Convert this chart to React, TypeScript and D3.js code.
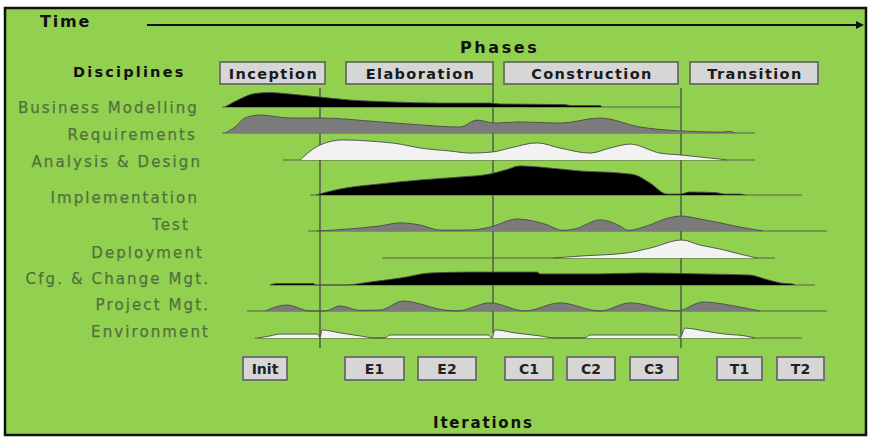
import React from "react";
import * as d3 from "d3";

// ---------- data ----------
const disciplines = [
  "Business Modelling",
  "Requirements",
  "Analysis & Design",
  "Implementation",
  "Test",
  "Deployment",
  "Cfg. & Change Mgt.",
  "Project Mgt.",
  "Environment",
];

// effort profiles: [time, effort]
const businessModelling: [number, number][] = [
  [1, 0], [4, 2.7], [7, 4.5], [10, 4.8], [14, 4.3], [20, 3.3], [26, 2.3], [34, 1.7],
  [44, 1.3], [54, 1.3], [56, 1], [69, 0.8], [70, 0.5], [76, 0.5], [76.4, 0],
];
const requirements: [number, number][] = [
  [1, 0], [3, 2], [5, 5], [8, 6], [14, 5], [20, 5], [32, 3.7], [40, 2.7], [48, 2],
  [51.4, 4.3], [55, 3.3], [60, 3.7], [68, 3.3], [76, 5], [84, 2], [92, 0.7],
  [100, 0.3], [102, 0.5], [103, 0],
];
const analysisDesign: [number, number][] = [
  [16, 0], [20, 5], [24.6, 6.7], [30, 6.3], [36, 5.3], [40, 4], [46, 3], [50, 2.3],
  [54.6, 2.7], [58, 4], [63.4, 5.7], [68, 4], [74, 2.3], [78, 4], [82, 5.3], [88, 2.3],
  [92, 1.7], [96, 1], [100, 0.3], [101.4, 0],
];
const implementation: [number, number][] = [
  [19.2, 0], [24, 2], [32, 3.7], [40, 5], [48, 6], [54, 7], [57, 8.3], [60, 9.7],
  [64, 9.3], [72, 8], [80, 7.3], [83, 6.7], [86, 4], [89.4, 0.3], [92, 0.3], [94, 1],
  [99, 0.8], [101, 0.3], [104, 0.3], [105, 0],
];
const test: [number, number][] = [
  [19.4, 0], [26, 0.7], [32, 1.7], [36, 2.7], [40, 2], [44, 0.3], [50, 0.3], [54, 1.3],
  [59.4, 4], [65, 2.3], [68.6, 0.2], [71, 0.7], [76, 3.7], [80, 1.7], [81.6, 0.2],
  [85.4, 1.7], [89, 4], [92.2, 5], [96, 4], [100, 2.7], [105, 1], [108.6, 0],
];
const deployment: [number, number][] = [
  [66.6, 0], [72.6, 0.7], [81.4, 1.7], [86, 3.3], [92.4, 6], [96, 4.3], [100, 3],
  [104, 1.3], [107.4, 0],
];
const cfgChange: [number, number][] = [
  [10, 0], [11.4, 0.5], [18.6, 0.5], [19.2, 0], [25, 0], [30, 1], [36, 2.3], [42, 4],
  [50, 4.3], [63.4, 4.3], [64, 3.7], [76, 3.7], [84, 4], [96, 3.7], [106, 3.3],
  [109, 2], [112, 0.7], [114.6, 0.3], [115, 0],
];
const projectMgt: [number, number][] = [
  [9, 0], [13.4, 2], [18, 0], [21, 0], [24, 1.7], [28, 0.2], [32, 0.3], [36.6, 3.3],
  [45, 0.3], [47.4, 0], [54, 2.7], [61, 0], [68, 2.7], [76, 0], [82, 2.7], [91.4, 0],
  [96.6, 3], [104, 1.3], [108, 0],
];
const environment: [number, number][] = [
  [7.6, 0], [10, 0.7], [12, 1.3], [19.6, 1.3], [20, 0], [20.4, 2.7], [24, 1.7],
  [28, 0.7], [31, 0], [33, 0], [34, 1], [53.6, 1], [54.4, 0], [55, 2.7], [59, 1.7],
  [64, 0.7], [67, 0], [73, 0], [74, 1], [91.2, 1], [92, 0], [93, 3.3], [97, 2.3],
  [101, 1.3], [105, 0.7], [107, 0],
];
const profiles = [
  businessModelling, requirements, analysisDesign, implementation, test,
  deployment, cfgChange, projectMgt, environment,
];
// time span of each discipline's base line
const lineSpans: [number, number][] = [
  [0.4, 92], [0.4, 107], [12.6, 107], [18, 116.4], [17.6, 121.4],
  [32.4, 111], [10, 119], [5.4, 121.4], [7, 116.4],
];

const phases = ["Inception", "Elaboration", "Construction", "Transition"];
const phaseSpans: [number, number][] = [[0, 21], [25.2, 54.6], [56.8, 91.6], [94, 119.6]];
const milestones = [20, 54.6, 92.2];

const iterations = ["Init", "E1", "E2", "C1", "C2", "C3", "T1", "T2"];
const iterationSpans: [number, number][] = [
  [4.6, 13.4], [25, 36.8], [39.6, 51.2], [57, 66.6], [69.4, 79], [82, 91.6],
  [99.4, 108.4], [111.4, 120.8],
];

// ---------- layout / style ----------
const W = 869;
const H = 441;
const rowBase = [107, 133, 160, 195, 231, 258, 285, 311, 338];
const labelY = [113, 140, 167, 203, 230, 258, 284, 310, 337];
const labelRight = [197, 195, 200, 197, 188, 202, 208, 208, 208];
const fills = ["#000", "#7b7b7b", "#f2f2f2", "#000", "#7b7b7b", "#f2f2f2", "#000", "#7b7b7b", "#f2f2f2"];
const GREEN = "#92d050";
const LABEL = "#52703f";
const LINE = "#56624c";

const x = d3.scaleLinear().domain([0, 122]).range([220, 830]);
const h = d3.scaleLinear().domain([0, 10]).range([0, 30]);

export default function App() {
  return (
    <div style={{ position: "absolute", left: 0, top: 0 }}>
      <svg width={W} height={H} style={{ display: "block", background: "#fff" }}>
        <rect x={5} y={8} width={861} height={427} fill={GREEN} stroke="#111" strokeWidth={2.5} />

        {/* time arrow */}
        <text x={40} y={27} fontFamily="DejaVu Sans" fontWeight="bold" fontSize={16} letterSpacing={1.8} fill="#111">Time</text>
        <line x1={147} y1={25} x2={856} y2={25} stroke="#111" strokeWidth={2.2} />
        <path d="M856,21 L864,25 L856,29 Z" fill="#111" />

        <text x={460} y={53} fontFamily="DejaVu Sans" fontWeight="bold" fontSize={16} letterSpacing={2.6} fill="#111">Phases</text>
        <text x={73} y={77} fontFamily="DejaVu Sans" fontWeight="bold" fontSize={14.5} letterSpacing={2.2} fill="#111">Disciplines</text>
        <text x={433} y={428} fontFamily="DejaVu Sans" fontWeight="bold" fontSize={15} letterSpacing={1.8} fill="#111">Iterations</text>

        {/* phase boxes */}
        {phases.map((p, i) => {
          const [a, b] = phaseSpans[i];
          return (
            <g key={p}>
              <rect x={x(a)} y={62} width={x(b) - x(a)} height={22} fill="#d6d6d6" stroke="#6a6a6a" strokeWidth={1.8} />
              <text x={(x(a) + x(b)) / 2 + 1} y={79} textAnchor="middle" fontFamily="DejaVu Sans" fontWeight="bold" fontSize={14.5} letterSpacing={1.4} fill="#1a1a1a">{p}</text>
            </g>
          );
        })}

        {/* milestone lines */}
        {milestones.map((m, i) => (
          <line key={i} x1={x(m)} x2={x(m)} y1={i === 1 ? 84 : 88} y2={i === 1 ? 333 : 348} stroke={LINE} strokeWidth={1.6} />
        ))}

        {/* disciplines */}
        {disciplines.map((d, i) => {
          const base = rowBase[i];
          const area = d3.area<[number, number]>()
            .x((p) => x(p[0]))
            .y0(base)
            .y1((p) => base - h(p[1]))
            .curve(d3.curveMonotoneX);
          const top = d3.line<[number, number]>()
            .x((p) => x(p[0]))
            .y((p) => base - h(p[1]))
            .curve(d3.curveMonotoneX);
          const [s, e] = lineSpans[i];
          return (
            <g key={d}>
              <text x={labelRight[i] + 2} y={labelY[i]} textAnchor="end" fontFamily="DejaVu Sans" fontSize={15} letterSpacing={2.1} fill={LABEL} stroke={LABEL} strokeWidth={0.25}>{d}</text>
              <line x1={x(s)} x2={x(e)} y1={base} y2={base} stroke={LINE} strokeWidth={1.2} />
              <path d={area(profiles[i]) || ""} fill={fills[i]} />
              <path d={top(profiles[i]) || ""} fill="none" stroke="#4a4a4a" strokeWidth={0.9} />
            </g>
          );
        })}

        {/* iteration boxes */}
        {iterations.map((it, i) => {
          const [a, b] = iterationSpans[i];
          return (
            <g key={it}>
              <rect x={x(a)} y={357} width={x(b) - x(a)} height={23} fill="#d6d6d6" stroke="#6a6a6a" strokeWidth={1.8} />
              <text x={(x(a) + x(b)) / 2} y={374} textAnchor="middle" fontFamily="DejaVu Sans" fontWeight="bold" fontSize={14} fill="#222">{it}</text>
            </g>
          );
        })}
      </svg>
    </div>
  );
}
